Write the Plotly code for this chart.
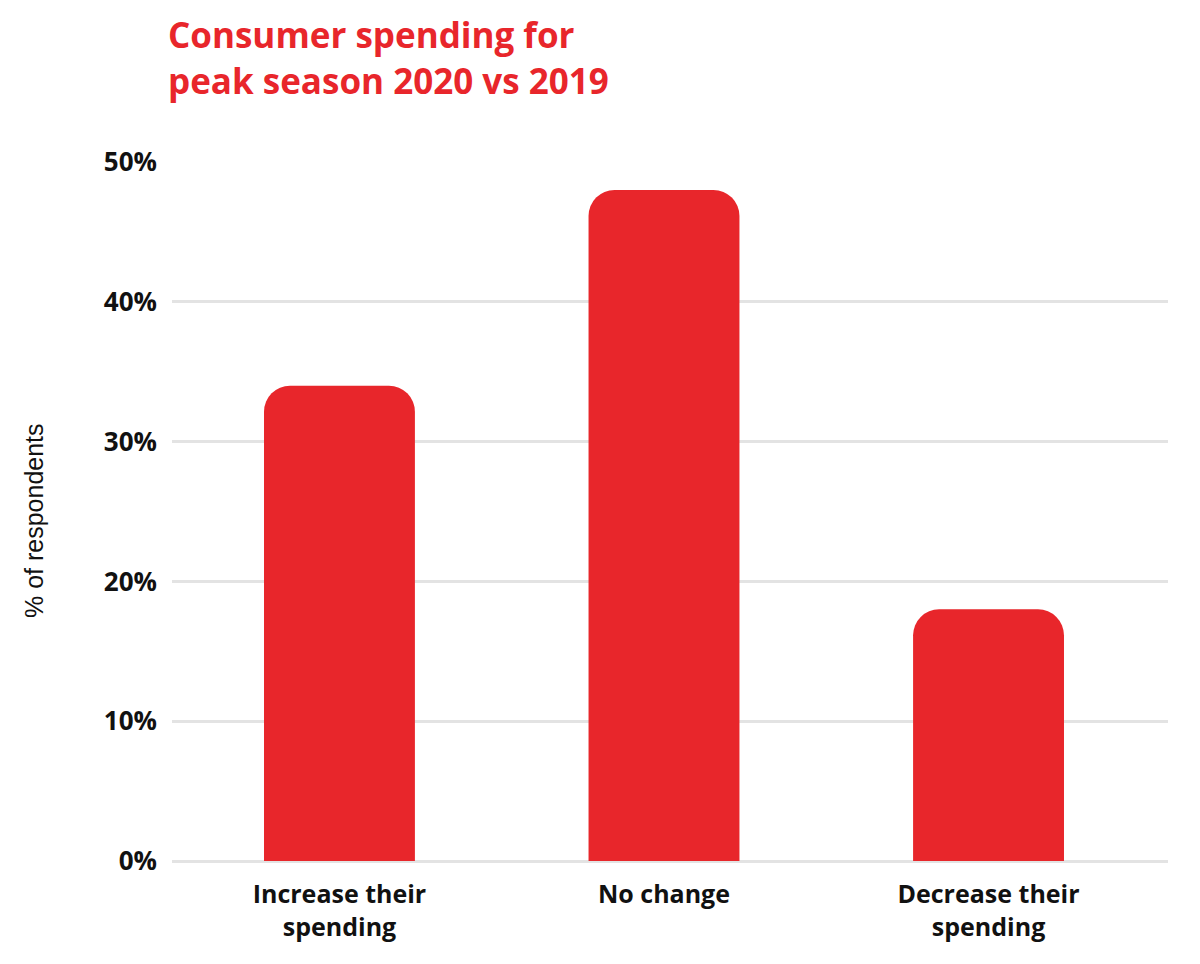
import plotly.graph_objects as go

categories = ["Increase their<br>spending", "No change", "Decrease their<br>spending"]
values = [34, 48, 18]
y_ticks = [0, 10, 20, 30, 40, 50]
y_tick_labels = ["0%", "10%", "20%", "30%", "40%", "50%"]

RED = "#e8262b"
PLOT_L, PLOT_R, PLOT_T, PLOT_B = 164, 1160, 154, 853  # figure pixels

fig = go.Figure()
fig.add_trace(go.Bar(
    x=categories,
    y=values,
    width=0.465,
    marker=dict(color=RED, line=dict(width=0), cornerradius=26),
    hoverinfo="skip",
))

fig.update_layout(
    width=1200,
    height=964,
    paper_bgcolor="white",
    plot_bgcolor="white",
    margin=dict(l=PLOT_L, r=1200 - PLOT_R, t=PLOT_T, b=964 - PLOT_B),
    showlegend=False,
    font=dict(family="Open Sans", color="#111111"),
    title=dict(
        text="Consumer spending for<br>peak season 2020 vs 2019",
        font=dict(family="Open Sans", size=35, color=RED, weight="bold"),
        x=160 / 1200,
        xanchor="left",
        y=1 - 40 / 964,
        yanchor="top",
    ),
    xaxis=dict(
        range=[-0.516, 2.553],
        showgrid=False,
        zeroline=False,
        showline=False,
        ticks="",
        tickfont=dict(family="Open Sans", size=25, color="#111111", weight="bold"),
        ticklabelstandoff=16,
        fixedrange=True,
    ),
    yaxis=dict(
        range=[0, 50],
        tickvals=y_ticks,
        ticktext=y_tick_labels,
        showgrid=True,
        gridcolor="#e3e3e3",
        gridwidth=3,
        zeroline=True,
        zerolinecolor="#e3e3e3",
        zerolinewidth=3,
        showline=False,
        ticks="",
        tickfont=dict(family="Open Sans", size=26, color="#111111", weight="bold"),
        ticklabelstandoff=14,
        fixedrange=True,
    ),
    annotations=[
        dict(
            text="% of respondents",
            textangle=-90,
            x=(26 - PLOT_L) / (PLOT_R - PLOT_L),
            y=(PLOT_B - 513) / (PLOT_B - PLOT_T),
            xref="paper",
            yref="paper",
            xanchor="center",
            yanchor="middle",
            showarrow=False,
            font=dict(family="Liberation Sans", size=25, color="#111111"),
        )
    ],
)

fig.write_html("out.html")
